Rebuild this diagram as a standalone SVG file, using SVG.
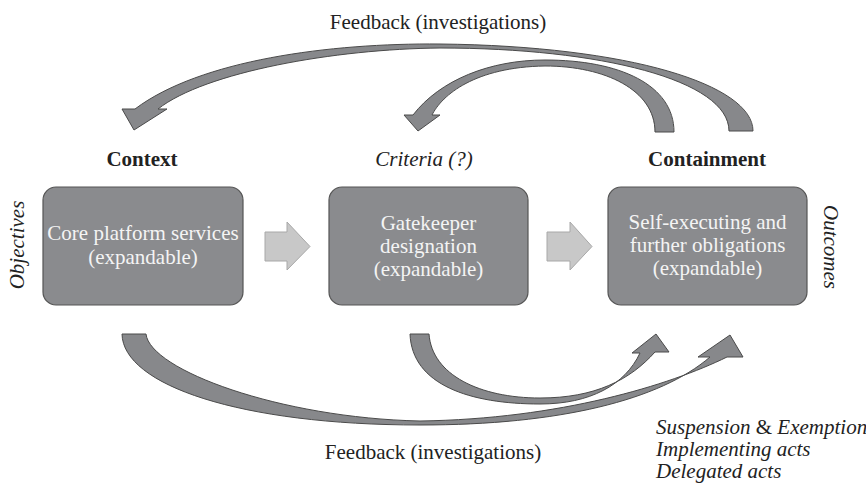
<svg xmlns="http://www.w3.org/2000/svg" width="866" height="485" viewBox="0 0 866 485">
<style>
text{font-family:'Liberation Serif','DejaVu Serif',serif;font-size:21px;}
.t{fill:#222;}
.it{font-style:italic;}
.b{font-weight:bold;}
.box{fill:#8a8b8e;stroke:#555;stroke-width:1.2;}
.bt{fill:#f4f4f4;text-anchor:middle;}
.arc{fill:#87888b;stroke:#4a4a4a;stroke-width:1;stroke-linejoin:miter;}
.blk{fill:#c8c8c8;stroke:#a8a8a8;stroke-width:1;}
</style>
<rect width="866" height="485" fill="#fff"/>
<g id="connectors">
<path class="arc" d="M 753,131 C 753,85 630,46 440,44 C 330,43 200,60 135,109 L 122,109 L 134,130 L 167,109 L 158,109 C 205,72 335,49 440,48 C 600,48 729,80 729,131 Z"/>
<path class="arc" d="M 674,132 C 674,85 620,60 545,60 C 490,60 440,80 413,115 L 404,115 L 418,131 L 440,115 L 432,115 C 442,95 475,67 545,66 C 605,66 655,90 655,132 Z"/>
<path class="arc" d="M 122,334 C 123,385 240,425 420,425 C 560,425 660,400 710,357 L 698,357 L 730,335 L 743,357 L 727,357 C 670,385 560,419 420,421 C 280,418 150,370 146,334 Z"/>
<path class="arc" d="M 410,334 C 412,385 470,404 540,404 C 590,404 625,385 640,353 L 632,353 L 656,334 L 669,352 L 655,352 C 630,380 595,398 540,398 C 480,398 432,375 429,334 Z"/>
<path class="blk" d="M 265,232 L 287,232 L 287,222 L 310,246.5 L 287,270 L 287,261 L 265,261 Z"/>
<path class="blk" d="M 547,232 L 570,232 L 570,222 L 592,246.5 L 570,270 L 570,261 L 547,261 Z"/>
</g>
<g id="box1">
<rect class="box" x="43" y="187" width="200" height="118" rx="13"/>
<text class="bt" x="143" y="240">Core platform services</text>
<text class="bt" x="143" y="264">(expandable)</text>
</g>
<g id="box2">
<rect class="box" x="329" y="187" width="199" height="118" rx="13"/>
<text class="bt" x="428.5" y="230">Gatekeeper</text>
<text class="bt" x="428.5" y="253">designation</text>
<text class="bt" x="428.5" y="276">(expandable)</text>
</g>
<g id="box3">
<rect class="box" x="608" y="187" width="199" height="118" rx="13"/>
<text class="bt" x="707.5" y="229">Self-executing and</text>
<text class="bt" x="707.5" y="252">further obligations</text>
<text class="bt" x="707.5" y="275">(expandable)</text>
</g>
<g id="labels">
<text class="t" x="438" y="29" text-anchor="middle">Feedback (investigations)</text>
<text class="t b" x="142" y="166" text-anchor="middle">Context</text>
<text class="t it" x="424" y="166" text-anchor="middle">Criteria (?)</text>
<text class="t b" x="707" y="166" text-anchor="middle">Containment</text>
<text class="t it" transform="translate(24,245) rotate(-90)" text-anchor="middle">Objectives</text>
<text class="t it" transform="translate(824,247) rotate(90)" text-anchor="middle">Outcomes</text>
<text class="t" x="433" y="459" text-anchor="middle">Feedback (investigations)</text>
<text class="t it" x="656" y="434">Suspension <tspan font-style="normal">&amp;</tspan> Exemption</text>
<text class="t it" x="656" y="456">Implementing acts</text>
<text class="t it" x="656" y="478">Delegated acts</text>
</g>
</svg>
